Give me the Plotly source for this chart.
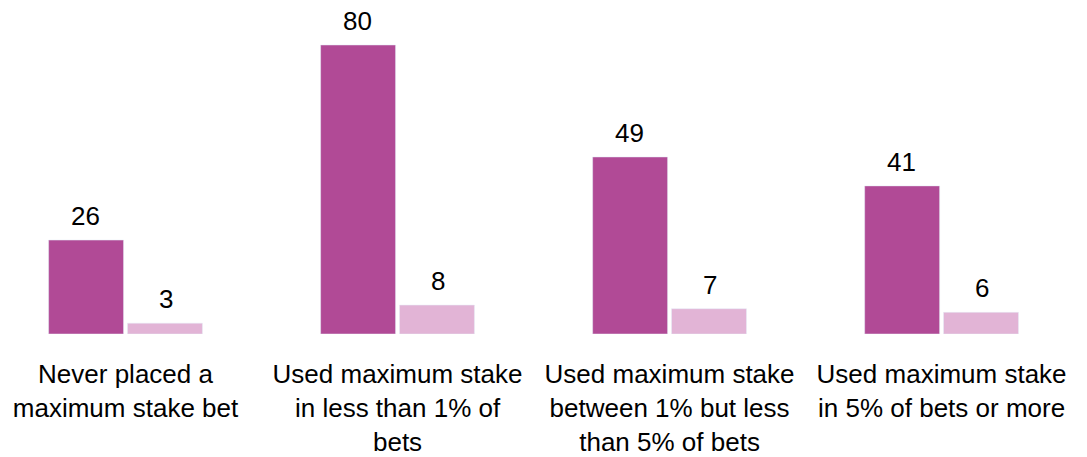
import plotly.graph_objects as go

categories = [
    "Never placed a<br>maximum stake bet",
    "Used maximum stake<br>in less than 1% of<br>bets",
    "Used maximum stake<br>between 1% but less<br>than 5% of bets",
    "Used maximum stake<br>in 5% of bets or more",
]
series_a = [26, 80, 49, 41]
series_b = [3, 8, 7, 6]

tick_font = dict(family="Liberation Sans, Arial, sans-serif", size=26, color="#000000")
val_font = dict(family="Liberation Sans, Arial, sans-serif", size=26, color="#000000")

fig = go.Figure()
fig.add_trace(go.Bar(x=categories, y=series_a, marker_color="#B14A96", showlegend=False))
fig.add_trace(go.Bar(x=categories, y=series_b, marker_color="#E2B4D6", showlegend=False))

for cat, va, vb in zip(categories, series_a, series_b):
    for v, dx in ((va, -40), (vb, 40)):
        fig.add_annotation(x=cat, y=v, text=str(v), showarrow=False, xshift=dx, yshift=24,
                           xanchor="center", yanchor="middle", font=val_font, borderpad=0)

fig.update_layout(
    width=1087, height=457,
    margin=dict(l=0, r=0, t=0, b=131),
    barmode="group", bargap=0.42, bargroupgap=0.05,
    plot_bgcolor="white", paper_bgcolor="white",
    font=tick_font,
    xaxis=dict(range=[-0.432, 3.564], showgrid=False, zeroline=False, showline=False,
               ticks="", tickfont=tick_font, ticklabelstandoff=22),
    yaxis=dict(range=[0, 90.24], visible=False),
)
fig.write_html("out.html")
